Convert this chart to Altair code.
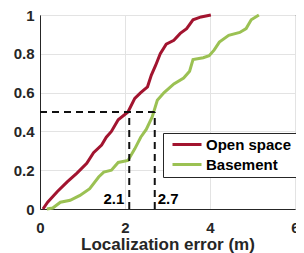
import altair as alt
import pandas as pd

open_x = [0.07, 0.18, 0.41, 0.64, 0.87, 1.10, 1.26, 1.45, 1.56, 1.68, 1.84, 2.07,
          2.23, 2.37, 2.53, 2.62, 2.72, 2.83, 2.97, 3.15, 3.30, 3.45, 3.60, 3.79, 4.02]
open_y = [0.0, 0.035, 0.09, 0.14, 0.185, 0.235, 0.29, 0.33, 0.37, 0.40, 0.46, 0.50,
          0.57, 0.60, 0.63, 0.69, 0.74, 0.80, 0.85, 0.87, 0.905, 0.93, 0.975, 0.99, 1.0]

base_x = [0.16, 0.30, 0.48, 0.71, 0.94, 1.17, 1.38, 1.50, 1.68, 1.84, 2.07, 2.23,
          2.37, 2.50, 2.64, 2.76, 2.92, 3.15, 3.38, 3.52, 3.60, 3.84, 3.98, 4.10,
          4.22, 4.44, 4.70, 4.85, 4.97, 5.15]
base_y = [0.0, 0.005, 0.035, 0.045, 0.07, 0.105, 0.165, 0.19, 0.20, 0.24, 0.25, 0.31,
          0.37, 0.41, 0.475, 0.56, 0.60, 0.645, 0.675, 0.71, 0.77, 0.78, 0.79, 0.82,
          0.86, 0.895, 0.91, 0.93, 0.975, 1.0]

series_names = ["Open space", "Basement"]
series_colors = ["#A2142F", "#9BC153"]
x_ticks = [0, 2, 4, 6]
y_ticks = [0, 0.2, 0.4, 0.6, 0.8, 1]
median_x = [2.1, 2.7]
median_labels = ["2.1", "2.7"]
median_y = 0.5

rows = []
for name, xs, ys in [(series_names[0], open_x, open_y), (series_names[1], base_x, base_y)]:
    for i, (xv, yv) in enumerate(zip(xs, ys)):
        rows.append({"series": name, "x": xv, "y": yv, "order": i})
df = pd.DataFrame(rows)

hline_df = pd.DataFrame({"x": [0.0], "x2": [max(median_x)], "y": [median_y]})
vline_df = pd.DataFrame({"x": median_x, "y": [0.0, 0.0], "y2": [median_y, median_y]})
lab1 = pd.DataFrame({"x": [median_x[0]], "y": [0.026], "t": [median_labels[0]]})
lab2 = pd.DataFrame({"x": [median_x[1]], "y": [0.026], "t": [median_labels[1]]})

FONT = "Liberation Sans"
INK = "#262626"

xscale = alt.Scale(domain=[0, 6], nice=False)
yscale = alt.Scale(domain=[0, 1], nice=False)
x_axis = alt.Axis(values=x_ticks, title="Localization error (m)", labelPadding=11,
                  titleY=40, titleBaseline="alphabetic", labelOverlap=False)
y_axis = alt.Axis(values=y_ticks, format="~g", title=None, labelPadding=6,
                  labelOverlap=False)


def X():
    return alt.X("x:Q", scale=xscale, axis=x_axis)


def Y():
    return alt.Y("y:Q", scale=yscale, axis=y_axis)


lines = alt.Chart(df).mark_line(strokeWidth=3).encode(
    x=X(), y=Y(),
    color=alt.Color("series:N",
                    scale=alt.Scale(domain=series_names, range=series_colors),
                    legend=alt.Legend(title=None, orient="none", legendX=123, legendY=118,
                                      symbolType="stroke", symbolStrokeWidth=3,
                                      symbolSize=841, clipHeight=15, rowPadding=4,
                                      symbolOffset=4,
                                      labelFontSize=15, labelFont=FONT,
                                      labelFontWeight="bold", labelColor="black",
                                      labelOffset=3, padding=4, strokeColor=INK,
                                      fillColor="white", cornerRadius=0)),
    order="order:Q",
)

hline = alt.Chart(hline_df).mark_rule(color="#111111", strokeWidth=2, strokeDash=[7, 5]).encode(
    x=X(), x2="x2:Q", y=Y())
vline = alt.Chart(vline_df).mark_rule(color="#111111", strokeWidth=2, strokeDash=[7, 5]).encode(
    x=X(), y=Y(), y2="y2:Q")

t1 = alt.Chart(lab1).mark_text(align="right", baseline="alphabetic", dx=-5, font=FONT,
                               fontSize=15, fontWeight="bold", color="black").encode(
    x=X(), y=Y(), text="t:N")
t2 = alt.Chart(lab2).mark_text(align="left", baseline="alphabetic", dx=3, font=FONT,
                               fontSize=15, fontWeight="bold", color="black").encode(
    x=X(), y=Y(), text="t:N")

chart = alt.layer(lines, hline, vline, t1, t2).properties(
    width=255, height=194,
    autosize=alt.AutoSizeParams(type="none"),
    padding={"left": 32, "top": 7, "right": 1, "bottom": 44},
).configure_view(
    stroke=INK, strokeWidth=1
).configure_axis(
    grid=True, gridColor="#e3e3e3", domainColor=INK, ticks=False,
    labelFont=FONT, labelFontWeight="bold", labelFontSize=15, labelColor=INK,
    labelFlush=False, labelOverlap=False,
    titleFont=FONT, titleFontWeight="bold", titleFontSize=17, titleColor=INK,
)

chart.save("out.html", embed_options={"renderer": "svg", "actions": False})
